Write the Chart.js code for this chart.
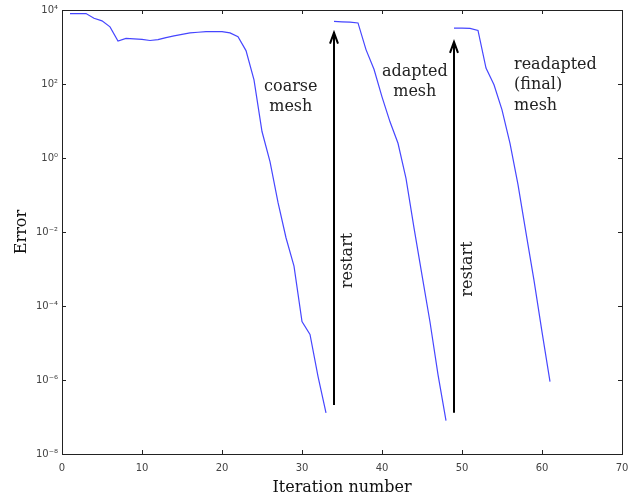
<!DOCTYPE html>
<html>
<head>
<meta charset="utf-8">
<script src="https://cdn.jsdelivr.net/npm/chart.js@4/dist/chart.umd.min.js"></script>
<style>
	html, body { margin: 0; padding: 0; background: #fff; }
	canvas { display: block; }
</style>
</head>
<body>
<canvas id="c" width="644" height="497"></canvas>
<script>
// iteration / error data
const coarseIter = [1, 2, 3, 4, 5, 6, 7, 8, 9, 10, 11, 12, 13, 14, 15, 16, 17, 18, 19, 20, 21, 22, 23, 24, 25, 26, 27, 28, 29, 30, 31, 32, 33];
const coarseErr = [8000, 8000, 8000, 6000, 5100, 3500, 1450, 1700, 1650, 1600, 1500, 1580, 1800, 2000, 2200, 2400, 2500, 2600, 2600, 2600, 2400, 1900, 800, 130, 5.2, 0.8, 0.063, 0.007, 0.0012, 3.8e-5, 1.7e-5, 1.26e-6, 1.3e-7];

const adaptedIter = [34, 35, 36, 37, 38, 39, 40, 41, 42, 43, 44, 45, 46, 47, 48];
const adaptedErr = [4900, 4800, 4700, 4470, 850, 250, 45, 9.5, 2.5, 0.28, 0.013, 6.8e-4, 3.7e-5, 1.4e-6, 8e-8];

const finalIter = [49, 50, 51, 52, 53, 54, 55, 56, 57, 58, 59, 60, 61];
const finalErr = [3250, 3250, 3200, 2800, 270, 95, 20, 2.5, 0.19, 0.0095, 4.9e-4, 2e-5, 9e-7];

// restart arrows (iteration, from error, to error)
const arrowIter = [34, 49];
const arrowFrom = [2.1e-7, 1.3e-7];
const arrowTo = [2450, 1380];

const xTicks = [0, 10, 20, 30, 40, 50, 60, 70];
const yExponents = [-8, -6, -4, -2, 0, 2, 4];

// text notes, placed in data coordinates
const notes = [
	{ x: 28.6, y: 85, lines: ['coarse', 'mesh'], align: 'center' },
	{ x: 44.1, y: 215, lines: ['adapted', 'mesh'], align: 'center' },
	{ x: 56.5, y: 330, lines: ['readapted', '(final)', 'mesh'], align: 'left' },
];
const restartNotes = [
	{ x: 35.75, y: 1.7e-3 },
	{ x: 50.75, y: 1e-3 },
];

const LINE_COLOR = '#4646ff';
const SERIF = '"DejaVu Serif", "Liberation Serif", serif';
const SANS = '"DejaVu Sans", sans-serif';

const SUP = { '0': '⁰', '1': '¹', '2': '²', '3': '³', '4': '⁴', '5': '⁵', '6': '⁶', '7': '⁷', '8': '⁸', '9': '⁹', '-': '⁻' };
const powLabel = (e) => '10' + String(e).split('').map((ch) => SUP[ch]).join('');

const toPoints = (xs, ys) => xs.map((x, i) => ({ x, y: ys[i] }));

const lineSet = (xs, ys) => ({
	data: toPoints(xs, ys),
	borderColor: LINE_COLOR,
	borderWidth: 1.2,
	pointRadius: 0,
	tension: 0,
	fill: false,
});

// frame, inward ticks, arrows and notes
const decorPlugin = {
	id: 'decor',
	afterDraw(chart) {
		const { ctx, chartArea: a, scales: { x, y } } = chart;
		ctx.save();
		ctx.strokeStyle = '#222';
		ctx.lineWidth = 1;
		ctx.strokeRect(Math.round(a.left) + 0.5, Math.round(a.top) + 0.5, Math.round(a.right - a.left), Math.round(a.bottom - a.top));

		ctx.beginPath();
		xTicks.forEach((v) => {
			const px = Math.round(x.getPixelForValue(v)) + 0.5;
			ctx.moveTo(px, a.bottom); ctx.lineTo(px, a.bottom - 4);
			ctx.moveTo(px, a.top); ctx.lineTo(px, a.top + 4);
		});
		yExponents.forEach((e) => {
			const py = Math.round(y.getPixelForValue(Math.pow(10, e))) + 0.5;
			ctx.moveTo(a.left, py); ctx.lineTo(a.left + 4, py);
			ctx.moveTo(a.right, py); ctx.lineTo(a.right - 4, py);
		});
		ctx.stroke();

		// restart arrows
		ctx.strokeStyle = '#000';
		ctx.lineWidth = 2;
		arrowIter.forEach((it, i) => {
			const px = x.getPixelForValue(it);
			const y0 = y.getPixelForValue(arrowFrom[i]);
			const y1 = y.getPixelForValue(arrowTo[i]);
			ctx.beginPath();
			ctx.moveTo(px, y0); ctx.lineTo(px, y1);
			ctx.moveTo(px - 4, y1 + 11); ctx.lineTo(px, y1); ctx.lineTo(px + 4, y1 + 11);
			ctx.stroke();
		});

		ctx.fillStyle = '#222';
		ctx.font = '16px ' + SERIF;
		ctx.textBaseline = 'middle';
		notes.forEach((n) => {
			const px = x.getPixelForValue(n.x);
			const py = y.getPixelForValue(n.y);
			ctx.textAlign = n.align;
			n.lines.forEach((t, k) => ctx.fillText(t, px, py + k * 20.5));
		});
		restartNotes.forEach((n) => {
			ctx.save();
			ctx.translate(x.getPixelForValue(n.x), y.getPixelForValue(n.y));
			ctx.rotate(-Math.PI / 2);
			ctx.textAlign = 'center';
			ctx.fillText('restart', 0, 0);
			ctx.restore();
		});
		ctx.restore();
	},
};

new Chart(document.getElementById('c'), {
	type: 'line',
	data: {
		datasets: [
			lineSet(coarseIter, coarseErr),
			lineSet(adaptedIter, adaptedErr),
			lineSet(finalIter, finalErr),
		],
	},
	options: {
		responsive: false,
		animation: false,
		devicePixelRatio: 1,
		layout: { padding: { top: 10, right: 22, left: 0, bottom: 0 } },
		plugins: {
			legend: { display: false },
			tooltip: { enabled: false },
		},
		scales: {
			x: {
				type: 'linear',
				min: 0,
				max: 70,
				afterBuildTicks: (s) => { s.ticks = xTicks.map((v) => ({ value: v })); },
				afterFit: (s) => { s.height = 43; },
				grid: { display: false, drawTicks: false },
				border: { display: false },
				ticks: { color: '#444', font: { family: SANS, size: 10 }, padding: 8, maxRotation: 0 },
				title: { display: true, text: 'Iteration number', color: '#111', font: { family: SERIF, size: 16 }, padding: { top: 0, bottom: 0 } },
			},
			y: {
				type: 'logarithmic',
				min: 1e-8,
				max: 1e4,
				afterBuildTicks: (s) => { s.ticks = yExponents.map((e) => ({ value: Math.pow(10, e) })); },
				afterFit: (s) => { s.width = 62; },
				grid: { display: false, drawTicks: false },
				border: { display: false },
				ticks: {
					color: '#444',
					font: { family: SANS, size: 10 },
					padding: 4,
					callback: (v) => powLabel(Math.round(Math.log10(v))),
				},
				title: { display: true, text: 'Error', color: '#111', font: { family: SERIF, size: 16 }, padding: { top: 12, bottom: 0 } },
			},
		},
	},
	plugins: [decorPlugin],
});
</script>
</body>
</html>
